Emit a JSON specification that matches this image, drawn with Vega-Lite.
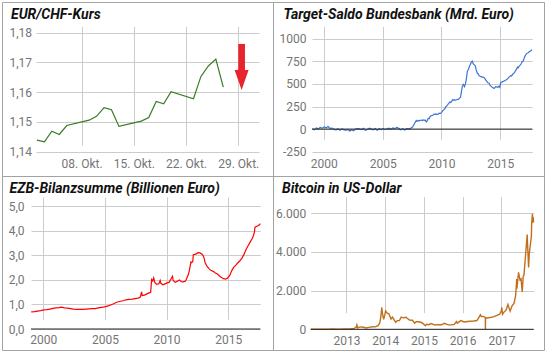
{
  "$schema": "https://vega.github.io/schema/vega-lite/v6.json",
  "padding": {"left": 1, "top": 1, "right": 0, "bottom": 0},
  "autosize": {"type": "pad"},
  "columns": 2,
  "spacing": 0,
  "bounds": "flush",
  "config": {
    "locale": {"number": {"decimal": ",", "thousands": ".", "grouping": [3], "currency": ["", " €"], "minus": "-"}},
    "view": {"stroke": "#a3a3a3", "strokeWidth": 1},
    "axis": {"labelFont": "Roboto", "labelFontSize": 12, "labelColor": "#757575", "gridColor": "#cccccc", "gridOpacity": 1, "gridWidth": 1, "domain": false, "ticks": false, "labelOverlap": false, "labelFlush": false},
    "title": {"anchor": "start", "frame": "group", "font": "Roboto", "fontSize": 14, "fontWeight": "bold", "fontStyle": "italic", "color": "#111111", "offset": -20, "baseline": "alphabetic"}
  },
  "concat": [
    {
      "width": 271, "height": 174,
      "title": {"text": "EUR/CHF-Kurs", "dx": 9},
      "layer": [
        {
          "data": {"values": [
            {"d": "2017-10-02T00:00", "v": 1.1439},
            {"d": "2017-10-03T00:00", "v": 1.1433},
            {"d": "2017-10-04T00:00", "v": 1.1469},
            {"d": "2017-10-05T00:00", "v": 1.1458},
            {"d": "2017-10-06T00:00", "v": 1.1488},
            {"d": "2017-10-09T00:00", "v": 1.1506},
            {"d": "2017-10-10T00:00", "v": 1.1519},
            {"d": "2017-10-11T00:00", "v": 1.1548},
            {"d": "2017-10-12T00:00", "v": 1.1541},
            {"d": "2017-10-13T00:00", "v": 1.1485},
            {"d": "2017-10-16T00:00", "v": 1.1503},
            {"d": "2017-10-17T00:00", "v": 1.1515},
            {"d": "2017-10-18T00:00", "v": 1.1569},
            {"d": "2017-10-19T00:00", "v": 1.1561},
            {"d": "2017-10-20T00:00", "v": 1.1602},
            {"d": "2017-10-23T00:00", "v": 1.1578},
            {"d": "2017-10-24T00:00", "v": 1.1653},
            {"d": "2017-10-25T00:00", "v": 1.1688},
            {"d": "2017-10-26T00:00", "v": 1.1711},
            {"d": "2017-10-27T00:00", "v": 1.1617}
          ]},
          "mark": {"type": "line", "color": "#3b7a22", "strokeWidth": 1.2},
          "encoding": {
            "x": {"field": "d", "type": "temporal",
              "scale": {"domain": [{"year": 2017, "month": 10, "date": 1, "hours": 21}, {"year": 2017, "month": 10, "date": 31, "hours": 19}], "range": [34, 257]},
              "axis": {"title": null, "grid": true, "format": "%d. Okt.", "offset": -24.3, "labelPadding": 6.5, "labelOverlap": false,
                "values": [{"year": 2017, "month": 10, "date": 8}, {"year": 2017, "month": 10, "date": 15}, {"year": 2017, "month": 10, "date": 22}, {"year": 2017, "month": 10, "date": 29}]}},
            "y": {"field": "v", "type": "quantitative",
              "scale": {"domain": [1.14, 1.18], "range": [149.7, 30.7], "nice": false, "zero": false},
              "axis": {"title": null, "grid": true, "format": ".2f", "offset": -34, "labelPadding": 4.5, "labelOverlap": false, "tickCount": 5, "values": [1.14, 1.15, 1.16, 1.17, 1.18]}}
          }
        },
        {
          "data": {"values": [{"k": "arrow"}]},
          "mark": {"type": "rule", "color": "#e8232b", "strokeWidth": 6.7, "strokeCap": "butt"},
          "encoding": {
            "x": {"datum": {"year": 2017, "month": 10, "date": 29, "hours": 11}, "type": "temporal"},
            "y": {"datum": 1.17623, "type": "quantitative"},
            "y2": {"datum": 1.1668}
          }
        },
        {
          "data": {"values": [{"k": "arrowhead"}]},
          "mark": {"type": "point", "shape": "M-0.7,-1L0.7,-1L0,1Z", "filled": true, "opacity": 1, "color": "#e8232b", "size": 400, "strokeWidth": 0},
          "encoding": {
            "x": {"datum": {"year": 2017, "month": 10, "date": 29, "hours": 11}, "type": "temporal"},
            "y": {"datum": 1.16413, "type": "quantitative"}
          }
        }
      ]
    },
    {
      "width": 271, "height": 174,
      "title": {"text": "Target-Saldo Bundesbank (Mrd. Euro)", "dx": 10.5},
      "layer": [
        {
          "data": {"values": [
            {"d": "1999-01-15", "v": 5}, {"d": "1999-03-15", "v": -8}, {"d": "1999-05-15", "v": 12}, {"d": "1999-07-15", "v": 3}, {"d": "1999-09-15", "v": 18}, {"d": "1999-11-15", "v": 10},
            {"d": "2000-01-15", "v": 25}, {"d": "2000-03-15", "v": 15}, {"d": "2000-05-15", "v": 28}, {"d": "2000-07-15", "v": 8}, {"d": "2000-09-15", "v": 12}, {"d": "2000-11-15", "v": -3},
            {"d": "2001-01-15", "v": -8}, {"d": "2001-03-15", "v": 5}, {"d": "2001-05-15", "v": -12}, {"d": "2001-07-15", "v": 2}, {"d": "2001-09-15", "v": -6}, {"d": "2001-11-15", "v": -15},
            {"d": "2002-01-15", "v": -5}, {"d": "2002-03-15", "v": -22}, {"d": "2002-05-15", "v": -10}, {"d": "2002-07-15", "v": -18}, {"d": "2002-09-15", "v": 0}, {"d": "2002-11-15", "v": 6},
            {"d": "2003-01-15", "v": 3}, {"d": "2003-03-15", "v": -6}, {"d": "2003-05-15", "v": 8}, {"d": "2003-07-15", "v": -14}, {"d": "2003-09-15", "v": -4}, {"d": "2003-11-15", "v": 10},
            {"d": "2004-01-15", "v": 2}, {"d": "2004-03-15", "v": -8}, {"d": "2004-05-15", "v": 6}, {"d": "2004-07-15", "v": -12}, {"d": "2004-09-15", "v": 4}, {"d": "2004-11-15", "v": -6},
            {"d": "2005-01-15", "v": 8}, {"d": "2005-03-15", "v": -4}, {"d": "2005-05-15", "v": 2}, {"d": "2005-07-15", "v": 10}, {"d": "2005-09-15", "v": -2}, {"d": "2005-11-15", "v": 12},
            {"d": "2006-01-15", "v": 5}, {"d": "2006-03-15", "v": 18}, {"d": "2006-05-15", "v": 8}, {"d": "2006-07-15", "v": -8}, {"d": "2006-09-15", "v": 4}, {"d": "2006-11-15", "v": -10},
            {"d": "2007-01-15", "v": 5}, {"d": "2007-03-15", "v": 3}, {"d": "2007-05-15", "v": 8}, {"d": "2007-06-15", "v": 15}, {"d": "2007-07-15", "v": 20}, {"d": "2007-08-15", "v": 40}, {"d": "2007-09-15", "v": 60}, {"d": "2007-10-15", "v": 80}, {"d": "2007-11-15", "v": 95}, {"d": "2007-12-15", "v": 85},
            {"d": "2008-01-15", "v": 95}, {"d": "2008-02-15", "v": 92}, {"d": "2008-03-15", "v": 98}, {"d": "2008-04-15", "v": 100}, {"d": "2008-05-15", "v": 95}, {"d": "2008-06-15", "v": 102}, {"d": "2008-07-15", "v": 97}, {"d": "2008-08-15", "v": 100}, {"d": "2008-09-15", "v": 78}, {"d": "2008-10-15", "v": 90}, {"d": "2008-11-15", "v": 120}, {"d": "2008-12-15", "v": 115},
            {"d": "2009-01-15", "v": 140}, {"d": "2009-02-15", "v": 150}, {"d": "2009-03-15", "v": 148}, {"d": "2009-04-15", "v": 155}, {"d": "2009-05-15", "v": 165}, {"d": "2009-06-15", "v": 162}, {"d": "2009-07-15", "v": 170}, {"d": "2009-08-15", "v": 160}, {"d": "2009-09-15", "v": 165}, {"d": "2009-10-15", "v": 175}, {"d": "2009-11-15", "v": 172}, {"d": "2009-12-15", "v": 177},
            {"d": "2010-01-15", "v": 190}, {"d": "2010-02-15", "v": 205}, {"d": "2010-03-15", "v": 215}, {"d": "2010-04-15", "v": 225}, {"d": "2010-05-15", "v": 245}, {"d": "2010-06-15", "v": 258}, {"d": "2010-07-15", "v": 270}, {"d": "2010-08-15", "v": 285}, {"d": "2010-09-15", "v": 300}, {"d": "2010-10-15", "v": 295}, {"d": "2010-11-15", "v": 310}, {"d": "2010-12-15", "v": 326},
            {"d": "2011-01-15", "v": 318}, {"d": "2011-02-15", "v": 322}, {"d": "2011-03-15", "v": 320}, {"d": "2011-04-15", "v": 325}, {"d": "2011-05-15", "v": 330}, {"d": "2011-06-15", "v": 328}, {"d": "2011-07-15", "v": 345}, {"d": "2011-08-15", "v": 350}, {"d": "2011-09-15", "v": 420}, {"d": "2011-10-15", "v": 480}, {"d": "2011-11-15", "v": 495}, {"d": "2011-12-15", "v": 470},
            {"d": "2012-01-15", "v": 500}, {"d": "2012-02-15", "v": 560}, {"d": "2012-03-15", "v": 640}, {"d": "2012-04-15", "v": 660}, {"d": "2012-05-15", "v": 690}, {"d": "2012-06-15", "v": 715}, {"d": "2012-07-15", "v": 740}, {"d": "2012-08-15", "v": 751}, {"d": "2012-09-15", "v": 720}, {"d": "2012-10-15", "v": 710}, {"d": "2012-11-15", "v": 700}, {"d": "2012-12-15", "v": 655},
            {"d": "2013-01-15", "v": 620}, {"d": "2013-02-15", "v": 610}, {"d": "2013-03-15", "v": 590}, {"d": "2013-04-15", "v": 585}, {"d": "2013-05-15", "v": 580}, {"d": "2013-06-15", "v": 575}, {"d": "2013-07-15", "v": 575}, {"d": "2013-08-15", "v": 570}, {"d": "2013-09-15", "v": 555}, {"d": "2013-10-15", "v": 540}, {"d": "2013-11-15", "v": 525}, {"d": "2013-12-15", "v": 510},
            {"d": "2014-01-15", "v": 510}, {"d": "2014-02-15", "v": 485}, {"d": "2014-03-15", "v": 475}, {"d": "2014-04-15", "v": 465}, {"d": "2014-05-15", "v": 460}, {"d": "2014-06-15", "v": 450}, {"d": "2014-07-15", "v": 458}, {"d": "2014-08-15", "v": 470}, {"d": "2014-09-15", "v": 468}, {"d": "2014-10-15", "v": 460}, {"d": "2014-11-15", "v": 475}, {"d": "2014-12-15", "v": 461},
            {"d": "2015-01-15", "v": 515}, {"d": "2015-02-15", "v": 520}, {"d": "2015-03-15", "v": 525}, {"d": "2015-04-15", "v": 530}, {"d": "2015-05-15", "v": 535}, {"d": "2015-06-15", "v": 540}, {"d": "2015-07-15", "v": 548}, {"d": "2015-08-15", "v": 555}, {"d": "2015-09-15", "v": 570}, {"d": "2015-10-15", "v": 580}, {"d": "2015-11-15", "v": 590}, {"d": "2015-12-15", "v": 586},
            {"d": "2016-01-15", "v": 605}, {"d": "2016-02-15", "v": 615}, {"d": "2016-03-15", "v": 625}, {"d": "2016-04-15", "v": 645}, {"d": "2016-05-15", "v": 660}, {"d": "2016-06-15", "v": 685}, {"d": "2016-07-15", "v": 680}, {"d": "2016-08-15", "v": 700}, {"d": "2016-09-15", "v": 710}, {"d": "2016-10-15", "v": 725}, {"d": "2016-11-15", "v": 750}, {"d": "2016-12-15", "v": 754},
            {"d": "2017-01-15", "v": 790}, {"d": "2017-02-15", "v": 815}, {"d": "2017-03-15", "v": 830}, {"d": "2017-04-15", "v": 840}, {"d": "2017-05-15", "v": 845}, {"d": "2017-06-15", "v": 855}, {"d": "2017-07-15", "v": 860}, {"d": "2017-08-15", "v": 870}, {"d": "2017-09-10", "v": 878}
          ]},
          "mark": {"type": "line", "color": "#3d75d6", "strokeWidth": 1.2},
          "encoding": {
            "x": {"field": "d", "type": "temporal",
              "scale": {"domain": [{"year": 1999, "month": 1, "date": 1}, {"year": 2017, "month": 9, "date": 20}], "range": [39, 259.3]},
              "axis": {"title": null, "grid": true, "format": "%Y", "offset": -24.3, "labelPadding": 6.5, "labelOverlap": false,
                "values": [{"year": 2000, "month": 1, "date": 1}, {"year": 2005, "month": 1, "date": 1}, {"year": 2010, "month": 1, "date": 1}, {"year": 2015, "month": 1, "date": 1}]}},
            "y": {"field": "v", "type": "quantitative",
              "scale": {"domain": [-250, 1000], "range": [149.7, 36.7], "nice": false, "zero": false},
              "axis": {"title": null, "grid": true, "format": "d", "offset": -39, "labelPadding": 6, "labelOverlap": false, "tickCount": 6, "values": [-250, 0, 250, 500, 750, 1000]}}
          }
        },
        {
          "data": {"values": [{"k": "baseline"}]},
          "mark": {"type": "rule", "color": "#222222", "strokeWidth": 1},
          "encoding": {
            "x": {"datum": {"year": 1999, "month": 1, "date": 1}, "type": "temporal"},
            "x2": {"datum": {"year": 2017, "month": 9, "date": 20}},
            "y": {"datum": 0, "type": "quantitative"}
          }
        }
      ]
    },
    {
      "width": 271, "height": 174,
      "title": {"text": "EZB-Bilanzsumme (Billionen Euro)", "dx": 7.5},
      "layer": [
        {
          "data": {"values": [
            {"d": "1999-01-08", "v": 0.70}, {"d": "1999-04-15", "v": 0.71}, {"d": "1999-07-15", "v": 0.73}, {"d": "1999-10-15", "v": 0.75},
            {"d": "2000-01-15", "v": 0.78}, {"d": "2000-04-15", "v": 0.79}, {"d": "2000-07-15", "v": 0.81}, {"d": "2000-10-15", "v": 0.84},
            {"d": "2001-01-15", "v": 0.86}, {"d": "2001-04-15", "v": 0.87}, {"d": "2001-06-15", "v": 0.89}, {"d": "2001-09-15", "v": 0.86}, {"d": "2001-12-15", "v": 0.85},
            {"d": "2002-03-15", "v": 0.83}, {"d": "2002-06-15", "v": 0.81}, {"d": "2002-09-15", "v": 0.80}, {"d": "2002-12-15", "v": 0.80},
            {"d": "2003-03-15", "v": 0.80}, {"d": "2003-06-15", "v": 0.81}, {"d": "2003-09-15", "v": 0.82}, {"d": "2003-12-15", "v": 0.83},
            {"d": "2004-03-15", "v": 0.83}, {"d": "2004-06-15", "v": 0.86}, {"d": "2004-09-15", "v": 0.88}, {"d": "2004-12-15", "v": 0.90},
            {"d": "2005-03-15", "v": 0.93}, {"d": "2005-06-15", "v": 0.98}, {"d": "2005-09-15", "v": 1.03}, {"d": "2005-12-15", "v": 1.09},
            {"d": "2006-03-15", "v": 1.12}, {"d": "2006-06-15", "v": 1.15}, {"d": "2006-09-15", "v": 1.19}, {"d": "2006-12-15", "v": 1.21},
            {"d": "2007-03-15", "v": 1.22}, {"d": "2007-06-15", "v": 1.24}, {"d": "2007-09-15", "v": 1.26}, {"d": "2007-11-15", "v": 1.30}, {"d": "2007-12-21", "v": 1.51},
            {"d": "2008-01-10", "v": 1.36}, {"d": "2008-03-15", "v": 1.38}, {"d": "2008-05-15", "v": 1.42}, {"d": "2008-07-15", "v": 1.46}, {"d": "2008-09-15", "v": 1.49}, {"d": "2008-10-15", "v": 2.02}, {"d": "2008-11-15", "v": 1.96}, {"d": "2008-12-15", "v": 2.08},
            {"d": "2009-01-15", "v": 1.90}, {"d": "2009-03-15", "v": 1.82}, {"d": "2009-05-15", "v": 1.84}, {"d": "2009-06-25", "v": 1.98}, {"d": "2009-07-15", "v": 1.86}, {"d": "2009-09-15", "v": 1.80}, {"d": "2009-11-15", "v": 1.84},
            {"d": "2010-01-15", "v": 1.88}, {"d": "2010-03-15", "v": 1.90}, {"d": "2010-05-15", "v": 2.05}, {"d": "2010-06-25", "v": 2.15}, {"d": "2010-07-15", "v": 1.98}, {"d": "2010-09-15", "v": 1.90}, {"d": "2010-11-15", "v": 1.95},
            {"d": "2011-01-15", "v": 2.00}, {"d": "2011-03-15", "v": 1.93}, {"d": "2011-05-15", "v": 1.92}, {"d": "2011-07-15", "v": 1.95}, {"d": "2011-08-15", "v": 2.05}, {"d": "2011-10-15", "v": 2.25}, {"d": "2011-11-15", "v": 2.45}, {"d": "2011-12-23", "v": 2.73},
            {"d": "2012-01-15", "v": 2.70}, {"d": "2012-02-15", "v": 2.75}, {"d": "2012-03-02", "v": 3.03}, {"d": "2012-05-15", "v": 3.05}, {"d": "2012-07-15", "v": 3.11}, {"d": "2012-09-15", "v": 3.10}, {"d": "2012-11-15", "v": 3.05}, {"d": "2012-12-15", "v": 3.00},
            {"d": "2013-01-15", "v": 2.90}, {"d": "2013-02-15", "v": 2.70}, {"d": "2013-04-15", "v": 2.55}, {"d": "2013-06-15", "v": 2.45}, {"d": "2013-08-15", "v": 2.38}, {"d": "2013-10-15", "v": 2.35}, {"d": "2013-12-15", "v": 2.28},
            {"d": "2014-02-15", "v": 2.24}, {"d": "2014-04-15", "v": 2.16}, {"d": "2014-06-15", "v": 2.10}, {"d": "2014-08-15", "v": 2.05}, {"d": "2014-10-15", "v": 2.03}, {"d": "2014-12-15", "v": 2.08},
            {"d": "2015-02-15", "v": 2.18}, {"d": "2015-04-15", "v": 2.38}, {"d": "2015-06-15", "v": 2.52}, {"d": "2015-08-15", "v": 2.60}, {"d": "2015-10-15", "v": 2.70}, {"d": "2015-12-15", "v": 2.78},
            {"d": "2016-02-15", "v": 2.90}, {"d": "2016-04-15", "v": 3.05}, {"d": "2016-06-15", "v": 3.25}, {"d": "2016-08-15", "v": 3.40}, {"d": "2016-10-15", "v": 3.55}, {"d": "2016-12-15", "v": 3.70},
            {"d": "2017-01-15", "v": 3.80}, {"d": "2017-02-15", "v": 3.95}, {"d": "2017-03-03", "v": 4.15}, {"d": "2017-05-15", "v": 4.20}, {"d": "2017-07-15", "v": 4.25}, {"d": "2017-08-08", "v": 4.29}
          ]},
          "mark": {"type": "line", "color": "#ff0000", "strokeWidth": 1.2},
          "encoding": {
            "x": {"field": "d", "type": "temporal",
              "scale": {"domain": [{"year": 1999, "month": 1, "date": 1}, {"year": 2017, "month": 8, "date": 8}], "range": [29, 258.3]},
              "axis": {"title": null, "grid": true, "format": "%Y", "offset": -21, "labelPadding": 5.5, "labelOverlap": false,
                "values": [{"year": 2000, "month": 1, "date": 1}, {"year": 2005, "month": 1, "date": 1}, {"year": 2010, "month": 1, "date": 1}, {"year": 2015, "month": 1, "date": 1}]}},
            "y": {"field": "v", "type": "quantitative",
              "scale": {"domain": [0, 5], "range": [153, 30.3], "nice": false, "zero": false},
              "axis": {"title": null, "grid": true, "format": ".1f", "offset": -29, "labelPadding": 7, "labelOverlap": false, "tickCount": 6, "values": [0, 1, 2, 3, 4, 5]}}
          }
        },
        {
          "data": {"values": [{"k": "baseline"}]},
          "mark": {"type": "rule", "color": "#222222", "strokeWidth": 1},
          "encoding": {
            "x": {"datum": {"year": 1999, "month": 1, "date": 1}, "type": "temporal"},
            "x2": {"datum": {"year": 2017, "month": 8, "date": 8}},
            "y": {"datum": 0, "type": "quantitative"}
          }
        }
      ]
    },
    {
      "width": 271, "height": 174,
      "title": {"text": "Bitcoin in US-Dollar", "dx": 9},
      "layer": [
        {
          "data": {"values": [
            {"d": "2012-01-30", "v": 5.5}, {"d": "2012-03-15", "v": 4.9}, {"d": "2012-05-15", "v": 5.1}, {"d": "2012-07-15", "v": 7}, {"d": "2012-08-15", "v": 12}, {"d": "2012-10-15", "v": 11.5}, {"d": "2012-12-15", "v": 13.5},
            {"d": "2013-01-15", "v": 14}, {"d": "2013-02-15", "v": 27}, {"d": "2013-03-15", "v": 47}, {"d": "2013-04-01", "v": 100}, {"d": "2013-04-09", "v": 230}, {"d": "2013-04-16", "v": 70}, {"d": "2013-05-01", "v": 115}, {"d": "2013-06-01", "v": 120}, {"d": "2013-07-05", "v": 70}, {"d": "2013-08-01", "v": 100}, {"d": "2013-09-01", "v": 130}, {"d": "2013-10-01", "v": 125}, {"d": "2013-10-25", "v": 190}, {"d": "2013-11-10", "v": 320}, {"d": "2013-11-20", "v": 600}, {"d": "2013-11-30", "v": 1130}, {"d": "2013-12-07", "v": 800}, {"d": "2013-12-18", "v": 520}, {"d": "2013-12-28", "v": 730},
            {"d": "2014-01-05", "v": 950}, {"d": "2014-01-20", "v": 830}, {"d": "2014-02-05", "v": 800}, {"d": "2014-02-25", "v": 530}, {"d": "2014-03-10", "v": 630}, {"d": "2014-04-10", "v": 360}, {"d": "2014-04-25", "v": 450}, {"d": "2014-05-15", "v": 450}, {"d": "2014-06-01", "v": 630}, {"d": "2014-06-20", "v": 590}, {"d": "2014-07-15", "v": 620}, {"d": "2014-08-18", "v": 480}, {"d": "2014-09-15", "v": 470}, {"d": "2014-10-05", "v": 320}, {"d": "2014-10-20", "v": 390}, {"d": "2014-11-15", "v": 390}, {"d": "2014-12-15", "v": 340},
            {"d": "2015-01-14", "v": 180}, {"d": "2015-01-25", "v": 260}, {"d": "2015-02-15", "v": 240}, {"d": "2015-03-12", "v": 295}, {"d": "2015-04-15", "v": 220}, {"d": "2015-05-15", "v": 240}, {"d": "2015-06-15", "v": 235}, {"d": "2015-07-12", "v": 310}, {"d": "2015-08-20", "v": 230}, {"d": "2015-09-15", "v": 230}, {"d": "2015-10-15", "v": 255}, {"d": "2015-11-04", "v": 400}, {"d": "2015-11-12", "v": 320}, {"d": "2015-12-15", "v": 450},
            {"d": "2016-01-15", "v": 380}, {"d": "2016-02-15", "v": 400}, {"d": "2016-03-15", "v": 415}, {"d": "2016-04-15", "v": 430}, {"d": "2016-05-15", "v": 455}, {"d": "2016-06-17", "v": 750}, {"d": "2016-06-25", "v": 660}, {"d": "2016-07-15", "v": 665}, {"d": "2016-08-01", "v": 610}, {"d": "2016-08-02", "v": 545}, {"d": "2016-08-03", "v": 0}, {"d": "2016-08-04", "v": 575}, {"d": "2016-09-15", "v": 610}, {"d": "2016-10-15", "v": 640}, {"d": "2016-11-15", "v": 710}, {"d": "2016-12-15", "v": 780}, {"d": "2016-12-31", "v": 960},
            {"d": "2017-01-04", "v": 1130}, {"d": "2017-01-11", "v": 780}, {"d": "2017-01-25", "v": 890}, {"d": "2017-02-15", "v": 1000}, {"d": "2017-03-03", "v": 1280}, {"d": "2017-03-24", "v": 940}, {"d": "2017-04-10", "v": 1200}, {"d": "2017-04-30", "v": 1350}, {"d": "2017-05-15", "v": 1750}, {"d": "2017-05-25", "v": 2600}, {"d": "2017-05-27", "v": 2100}, {"d": "2017-06-11", "v": 2950}, {"d": "2017-06-25", "v": 2550}, {"d": "2017-07-05", "v": 2600}, {"d": "2017-07-16", "v": 1930}, {"d": "2017-07-25", "v": 2750}, {"d": "2017-08-01", "v": 2800}, {"d": "2017-08-10", "v": 3400}, {"d": "2017-08-20", "v": 4100}, {"d": "2017-09-01", "v": 4900}, {"d": "2017-09-05", "v": 4300}, {"d": "2017-09-14", "v": 3200}, {"d": "2017-09-20", "v": 3900}, {"d": "2017-09-30", "v": 4350}, {"d": "2017-10-10", "v": 4800}, {"d": "2017-10-13", "v": 5500}, {"d": "2017-10-20", "v": 5980}, {"d": "2017-10-24", "v": 5500}, {"d": "2017-10-27", "v": 5800}, {"d": "2017-10-30", "v": 5550}
          ]},
          "mark": {"type": "line", "color": "#c0701c", "strokeWidth": 1.4},
          "encoding": {
            "x": {"field": "d", "type": "temporal",
              "scale": {"domain": [{"year": 2012, "month": 1, "date": 30}, {"year": 2017, "month": 11, "date": 1}], "range": [37.7, 260.7]},
              "axis": {"title": null, "grid": true, "format": "%Y", "offset": -20.7, "labelPadding": 6, "labelOverlap": false,
                "values": [{"year": 2013, "month": 1, "date": 1}, {"year": 2014, "month": 1, "date": 1}, {"year": 2015, "month": 1, "date": 1}, {"year": 2016, "month": 1, "date": 1}, {"year": 2017, "month": 1, "date": 1}]}},
            "y": {"field": "v", "type": "quantitative",
              "scale": {"domain": [0, 6000], "range": [153.3, 37.3], "nice": false, "zero": false},
              "axis": {"title": null, "grid": true, "format": ",d", "offset": -37.7, "labelPadding": 5, "labelOverlap": false, "tickCount": 4, "values": [0, 2000, 4000, 6000]}}
          }
        },
        {
          "data": {"values": [{"k": "baseline"}]},
          "mark": {"type": "rule", "color": "#222222", "strokeWidth": 1},
          "encoding": {
            "x": {"datum": {"year": 2012, "month": 1, "date": 30}, "type": "temporal"},
            "x2": {"datum": {"year": 2017, "month": 11, "date": 1}},
            "y": {"datum": 0, "type": "quantitative"}
          }
        }
      ]
    }
  ]
}
